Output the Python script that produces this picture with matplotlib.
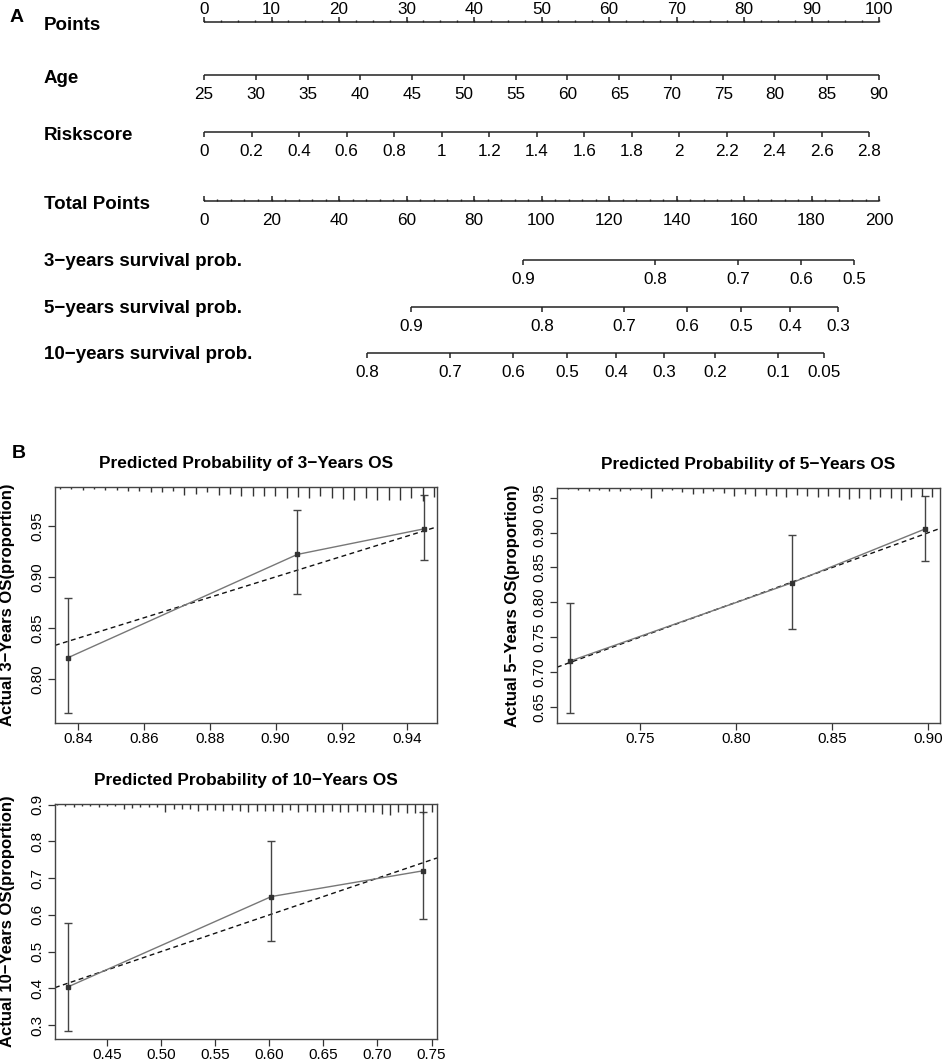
import numpy as np
import matplotlib
matplotlib.use('Agg')
import matplotlib.pyplot as plt
from matplotlib.ticker import FormatStrFormatter
from matplotlib.transforms import blended_transform_factory

plt.rcParams['font.family'] = ['Liberation Sans', 'DejaVu Sans']

# ---------------- A: nomogram ----------------
points_ticks = [0, 10, 20, 30, 40, 50, 60, 70, 80, 90, 100]
age_ticks = [25, 30, 35, 40, 45, 50, 55, 60, 65, 70, 75, 80, 85, 90]
age_lo, age_hi = 25, 90            # age giving 0 and 100 points
risk_ticks = [0, 0.2, 0.4, 0.6, 0.8, 1, 1.2, 1.4, 1.6, 1.8, 2, 2.2, 2.4, 2.6, 2.8]
risk_labels = ['0', '0.2', '0.4', '0.6', '0.8', '1', '1.2', '1.4', '1.6', '1.8',
               '2', '2.2', '2.4', '2.6', '2.8']
risk_full = 2.84                   # riskscore giving 100 points
total_ticks = [0, 20, 40, 60, 80, 100, 120, 140, 160, 180, 200]

surv3_labels = ['0.9', '0.8', '0.7', '0.6', '0.5']
surv3_total = [94.5, 133.6, 158.2, 176.9, 192.6]
surv5_labels = ['0.9', '0.8', '0.7', '0.6', '0.5', '0.4', '0.3']
surv5_total = [61.3, 100.1, 124.4, 143.1, 159.1, 173.6, 187.9]
surv10_labels = ['0.8', '0.7', '0.6', '0.5', '0.4', '0.3', '0.2', '0.1', '0.05']
surv10_total = [48.3, 72.9, 91.6, 107.6, 122.1, 136.3, 151.4, 170.1, 183.7]

# ---------------- B: calibration ----------------
cal3_pred = [0.837, 0.9066, 0.945]
cal3_obs = [0.821, 0.922, 0.947]
cal3_lo = [0.767, 0.883, 0.917]
cal3_hi = [0.879, 0.965, 0.980]
rug3_x = [0.8345, 0.8379, 0.8414, 0.8448, 0.8483, 0.8517, 0.8551, 0.8586, 0.8620, 0.8655,
          0.8689, 0.8723, 0.8758, 0.8792, 0.8827, 0.8861, 0.8895, 0.8930, 0.8964, 0.8999,
          0.9033, 0.9067, 0.9102, 0.9136, 0.9171, 0.9205, 0.9239, 0.9274, 0.9308, 0.9343,
          0.9377, 0.9411, 0.9446, 0.9480]
rug3_n = [2, 2, 3, 2, 3, 3, 4, 4, 5, 5, 4, 8, 7, 5, 8, 7, 9, 9, 9, 9,
          11, 10, 11, 9, 11, 12, 13, 11, 13, 13, 13, 11, 14, 10]

cal5_pred = [0.714, 0.829, 0.898]
cal5_obs = [0.716, 0.828, 0.905]
cal5_lo = [0.641, 0.762, 0.860]
cal5_hi = [0.799, 0.897, 0.953]
rug5_x = [0.7126, 0.7180, 0.7234, 0.7288, 0.7342, 0.7397, 0.7451, 0.7505, 0.7559, 0.7613,
          0.7667, 0.7721, 0.7775, 0.7829, 0.7883, 0.7938, 0.7992, 0.8046, 0.8100, 0.8154,
          0.8208, 0.8262, 0.8316, 0.8370, 0.8424, 0.8479, 0.8533, 0.8587, 0.8641, 0.8695,
          0.8749, 0.8803, 0.8857, 0.8911, 0.8965, 0.9020]
rug5_n = [1, 2, 3, 2, 3, 3, 2, 2, 10, 3, 2, 4, 6, 5, 3, 5, 8, 6, 8, 7,
          8, 9, 7, 8, 9, 8, 9, 11, 10, 11, 9, 10, 12, 9, 8, 9]

cal10_pred = [0.414, 0.602, 0.742]
cal10_obs = [0.404, 0.650, 0.720]
cal10_lo = [0.285, 0.530, 0.588]
cal10_hi = [0.578, 0.800, 0.880]
rug10_x = [0.4039, 0.4116, 0.4193, 0.4270, 0.4347, 0.4424, 0.4500, 0.4577, 0.4654, 0.4731,
           0.4808, 0.4885, 0.4962, 0.5039, 0.5116, 0.5193, 0.5270, 0.5346, 0.5423, 0.5500,
           0.5577, 0.5654, 0.5731, 0.5808, 0.5885, 0.5962, 0.6039, 0.6116, 0.6192, 0.6269,
           0.6346, 0.6423, 0.6500, 0.6577, 0.6654, 0.6731, 0.6808, 0.6885, 0.6962, 0.7039,
           0.7116, 0.7192, 0.7269, 0.7346, 0.7423, 0.7500]
rug10_n = [1, 2, 3, 2, 2, 3, 2, 2, 5, 4, 3, 3, 3, 8, 5, 5, 5, 7, 6, 6,
           7, 6, 7, 8, 7, 7, 7, 8, 6, 8, 7, 8, 8, 7, 8, 8, 7, 8, 8, 10,
           11, 8, 9, 9, 10, 8]

W, H = 948, 1061
fig = plt.figure(figsize=(W / 100, H / 100), dpi=100)

# nomogram axes: x in points (0 at px 204, 100 at px 879), y in pixel rows
px_per_pt = 6.75
nom = fig.add_axes([0, 0, 1, 1])
nom.set_xlim(-204 / px_per_pt, (W - 204) / px_per_pt)
nom.set_ylim(H, 0)
nom.axis('off')
lab_tr = blended_transform_factory(fig.transFigure, nom.transData)
lc = '#222222'
tick_fs = 12.3
row_fs = 13.5


def scale_row(y, pos, labels, ticks_up=False, labels_above=False, minor=None):
    nom.plot([min(pos), max(pos)], [y, y], color=lc, lw=1.1, solid_capstyle='butt')
    d = -5 if ticks_up else 5
    nom.vlines(pos, y, y + d, color=lc, lw=1.1)
    if minor is not None:
        nom.vlines(minor, y, y + d * 0.5, color=lc, lw=1.0)
    for p, lab in zip(pos, labels):
        if labels_above:
            nom.text(p, y - 8, lab, ha='center', va='baseline', fontsize=tick_fs)
        else:
            nom.text(p, y + 24, lab, ha='center', va='baseline', fontsize=tick_fs)


def row_label(y, text, off=8):
    nom.text(44 / W, y + off, text, transform=lab_tr, ha='left', va='baseline',
             fontsize=row_fs, fontweight='bold')


y_pts, y_age, y_risk, y_tot = 22, 75, 132, 201
y_s3, y_s5, y_s10 = 260, 307, 353

scale_row(y_pts, points_ticks, [str(v) for v in points_ticks], ticks_up=True,
          labels_above=True, minor=np.arange(0, 100.1, 2.5))
row_label(y_pts, 'Points')

age_pts = [(a - age_lo) / (age_hi - age_lo) * 100 for a in age_ticks]
scale_row(y_age, age_pts, [str(a) for a in age_ticks])
row_label(y_age, 'Age')

risk_pts = [r / risk_full * 100 for r in risk_ticks]
scale_row(y_risk, risk_pts, risk_labels)
row_label(y_risk, 'Riskscore')

tot_pts = [t / 2 for t in total_ticks]
scale_row(y_tot, tot_pts, [str(t) for t in total_ticks], ticks_up=True,
          minor=np.arange(0, 200.1, 4) / 2)
row_label(y_tot, 'Total Points')

scale_row(y_s3, [t / 2 for t in surv3_total], surv3_labels)
row_label(y_s3, '3\u2212years survival prob.', off=6)
scale_row(y_s5, [t / 2 for t in surv5_total], surv5_labels)
row_label(y_s5, '5\u2212years survival prob.', off=6)
scale_row(y_s10, [t / 2 for t in surv10_total], surv10_labels)
row_label(y_s10, '10\u2212years survival prob.', off=6)

fig.text(10 / W, 1 - 22 / H, 'A', fontsize=14, fontweight='bold', ha='left', va='baseline')
fig.text(12 / W, 1 - 458 / H, 'B', fontsize=14, fontweight='bold', ha='left', va='baseline')


def cal_panel(box, pred, obs, lo, hi, rug_x, rug_n, title, ylabel,
              xlim, ylim, xticks, yticks, xfmt, yfmt, ylab_x):
    l, t, r, b = box
    ax = fig.add_axes([l / W, 1 - b / H, (r - l) / W, (b - t) / H])
    ax.set_xlim(xlim)
    ax.set_ylim(ylim)
    ax.axline((0.5, 0.5), slope=1, color='#111111', lw=1.0, ls=(0, (3.5, 2.5)))
    ax.plot(pred, obs, color='#777777', lw=1.0)
    ax.errorbar(pred, obs, yerr=[np.array(obs) - np.array(lo), np.array(hi) - np.array(obs)],
                fmt='s', ms=3.5, color='#333333', ecolor='#444444', elinewidth=1.0,
                capsize=3, capthick=1.0)
    tr = blended_transform_factory(ax.transData, ax.transAxes)
    ax_h = b - t
    ax.vlines(rug_x, 1, [1 - n / ax_h for n in rug_n], transform=tr,
              color='#333333', lw=1.0)
    ax.set_xticks(xticks)
    ax.set_yticks(yticks)
    ax.xaxis.set_major_formatter(FormatStrFormatter(xfmt))
    ax.yaxis.set_major_formatter(FormatStrFormatter(yfmt))
    ax.tick_params(length=5, width=0.9, color='#333333', labelsize=11)
    ax.tick_params(axis='x', pad=1.5)
    ax.tick_params(axis='y', labelrotation=90, pad=3)
    for lab in ax.get_yticklabels():
        lab.set_va('center')
    for s in ax.spines.values():
        s.set_color('#444444')
        s.set_linewidth(1.0)
    ax.set_title(title, fontsize=12.4, fontweight='bold', pad=14)
    ax.set_ylabel(ylabel, fontsize=12, fontweight='bold')
    ax.yaxis.set_label_coords(ylab_x, 0.5)
    return ax


cal_panel((55, 487, 437, 723), cal3_pred, cal3_obs, cal3_lo, cal3_hi, rug3_x, rug3_n,
          'Predicted Probability of 3\u2212Years OS', 'Actual 3\u2212Years OS(proportion)',
          (0.833, 0.949), (0.757, 0.988), [0.84, 0.86, 0.88, 0.90, 0.92, 0.94],
          [0.80, 0.85, 0.90, 0.95], '%.2f', '%.2f', -40 / 382)

cal_panel((557, 488, 940, 723), cal5_pred, cal5_obs, cal5_lo, cal5_hi, rug5_x, rug5_n,
          'Predicted Probability of 5\u2212Years OS', 'Actual 5\u2212Years OS(proportion)',
          (0.707, 0.906), (0.627, 0.964), [0.75, 0.80, 0.85, 0.90],
          [0.65, 0.70, 0.75, 0.80, 0.85, 0.90, 0.95], '%.2f', '%.2f', -37 / 383)

cal_panel((55, 804, 437, 1039), cal10_pred, cal10_obs, cal10_lo, cal10_hi, rug10_x, rug10_n,
          'Predicted Probability of 10\u2212Years OS', 'Actual 10\u2212Years OS(proportion)',
          (0.402, 0.755), (0.262, 0.902), [0.45, 0.50, 0.55, 0.60, 0.65, 0.70, 0.75],
          [0.3, 0.4, 0.5, 0.6, 0.7, 0.8, 0.9], '%.2f', '%.1f', -40 / 382)

fig.savefig('out.png', dpi=100)
